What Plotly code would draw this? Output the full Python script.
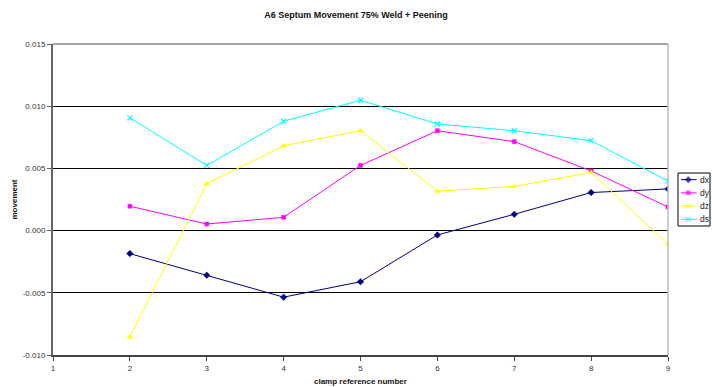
import plotly.graph_objects as go

clamp = [2, 3, 4, 5, 6, 7, 8, 9]
dx = [-0.00185, -0.00358, -0.00535, -0.00411, -0.00035, 0.00131, 0.00306, 0.00335]
dy = [0.00196, 0.00053, 0.00107, 0.00524, 0.00803, 0.00715, 0.00480, 0.00190]
dz = [-0.00855, 0.00376, 0.00682, 0.00803, 0.00317, 0.00355, 0.00468, -0.00110]
ds = [0.00906, 0.00524, 0.00879, 0.01048, 0.00857, 0.00803, 0.00723, 0.00398]

x_ticks = [1, 2, 3, 4, 5, 6, 7, 8, 9]
y_ticks = [-0.010, -0.005, 0.000, 0.005, 0.010, 0.015]
y_labels = ["-0.010", "-0.005", "0.000", "0.005", "0.010", "0.015"]

series = [
    ("dx", dx, "#000080", "diamond", 5, 0.5),
    ("dy", dy, "#FF00FF", "square", 4, 0.5),
    ("dz", dz, "#FFFF00", "triangle-up", 5, 0.5),
    ("ds", ds, "#00FFFF", "x-thin", 5, 1.2),
]

W, H = 712, 387
PL, PR, PT, PB = 53, 668, 44, 355          # plot area in px
LL, LR, LT, LB = 678, 710, 173, 226        # legend box in px

fig = go.Figure()
n = len(series)
for i, (name, vals, col, sym, sz, lw) in enumerate(series):
    fig.add_trace(go.Scatter(
        x=clamp, y=vals, name=name, mode="lines+markers", showlegend=False,
        line=dict(color=col, width=1),
        marker=dict(symbol=sym, size=sz, color=col, line=dict(color=col, width=lw)),
    ))
    # custom legend sample
    k = n - 1 - i + 0.5
    fig.add_trace(go.Scatter(
        x=[0.09, 0.32, 0.58], y=[k, k, k], mode="lines+markers", showlegend=False,
        xaxis="x2", yaxis="y2", hoverinfo="skip",
        line=dict(color=col, width=1),
        marker=dict(symbol=sym, size=[0, sz, 0], color=col,
                    line=dict(color=col, width=lw)),
    ))
    fig.add_annotation(x=0.63, y=k, xref="x2", yref="y2", text=name,
                       showarrow=False, xanchor="left", yanchor="middle",
                       font=dict(size=8.5, color="#222222"))

font = "Liberation Sans, Arial, sans-serif"
fig.update_layout(
    width=W, height=H,
    margin=dict(l=0, r=0, t=0, b=0, autoexpand=False),
    paper_bgcolor="white", plot_bgcolor="white",
    font=dict(family=font, size=8, color="#333333"),
    title=dict(text="<b>A6 Septum Movement 75% Weld + Peening</b>",
               x=0.5, xanchor="center", y=1 - 15 / H, yanchor="middle",
               font=dict(size=9, color="#111111", family=font)),
    showlegend=False,
    xaxis=dict(domain=[PL / W, PR / W], range=[1, 9], tickvals=x_ticks,
               ticktext=[str(v) for v in x_ticks],
               showgrid=False, zeroline=False, showline=True, automargin=False,
               linecolor="#444444", linewidth=2, mirror=False,
               ticks="outside", ticklen=4, tickcolor="#444444",
               tickfont=dict(size=8, color="#333333")),
    yaxis=dict(domain=[1 - PB / H, 1 - PT / H], range=[-0.010, 0.015],
               tickvals=y_ticks, ticktext=y_labels,
               showgrid=True, gridcolor="#000000", gridwidth=1,
               zeroline=False, showline=True, automargin=False,
               linecolor="#666666", linewidth=2,
               ticks="outside", ticklen=4, tickcolor="#666666",
               tickfont=dict(size=8, color="#333333")),
    xaxis2=dict(domain=[LL / W, LR / W], range=[0, 1], visible=False, fixedrange=True),
    yaxis2=dict(domain=[1 - LB / H, 1 - LT / H], range=[0, 4], visible=False,
                fixedrange=True, anchor="x2"),
)
fig.layout.xaxis2.anchor = "y2"

# axis titles
fig.add_annotation(x=(PL + PR) / 2 / W, y=1 - 381 / H, xref="paper", yref="paper",
                   text="<b>clamp reference number</b>", showarrow=False,
                   xanchor="center", yanchor="middle",
                   font=dict(size=8, color="#111111"))
fig.add_annotation(x=14 / W, y=1 - (PT + PB) / 2 / H, xref="paper", yref="paper",
                   text="<b>movement</b>", showarrow=False, textangle=-90,
                   xanchor="center", yanchor="middle",
                   font=dict(size=8, color="#111111"))

# top and right frame
fig.add_shape(type="line", xref="x domain", yref="y domain", x0=0, x1=1, y0=1, y1=1,
              line=dict(color="#888888", width=1.5))
fig.add_shape(type="line", xref="x domain", yref="y domain", x0=1, x1=1, y0=0, y1=1,
              line=dict(color="#BBBBBB", width=1.5))
# legend box
fig.add_shape(type="rect", xref="paper", yref="paper",
              x0=LL / W, x1=LR / W, y0=1 - LB / H, y1=1 - LT / H,
              line=dict(color="#000000", width=1), fillcolor="rgba(0,0,0,0)")

fig.write_html("out.html", config={"displayModeBar": False},
               post_script="document.body.style.margin='0px';document.body.style.overflow='hidden';")
